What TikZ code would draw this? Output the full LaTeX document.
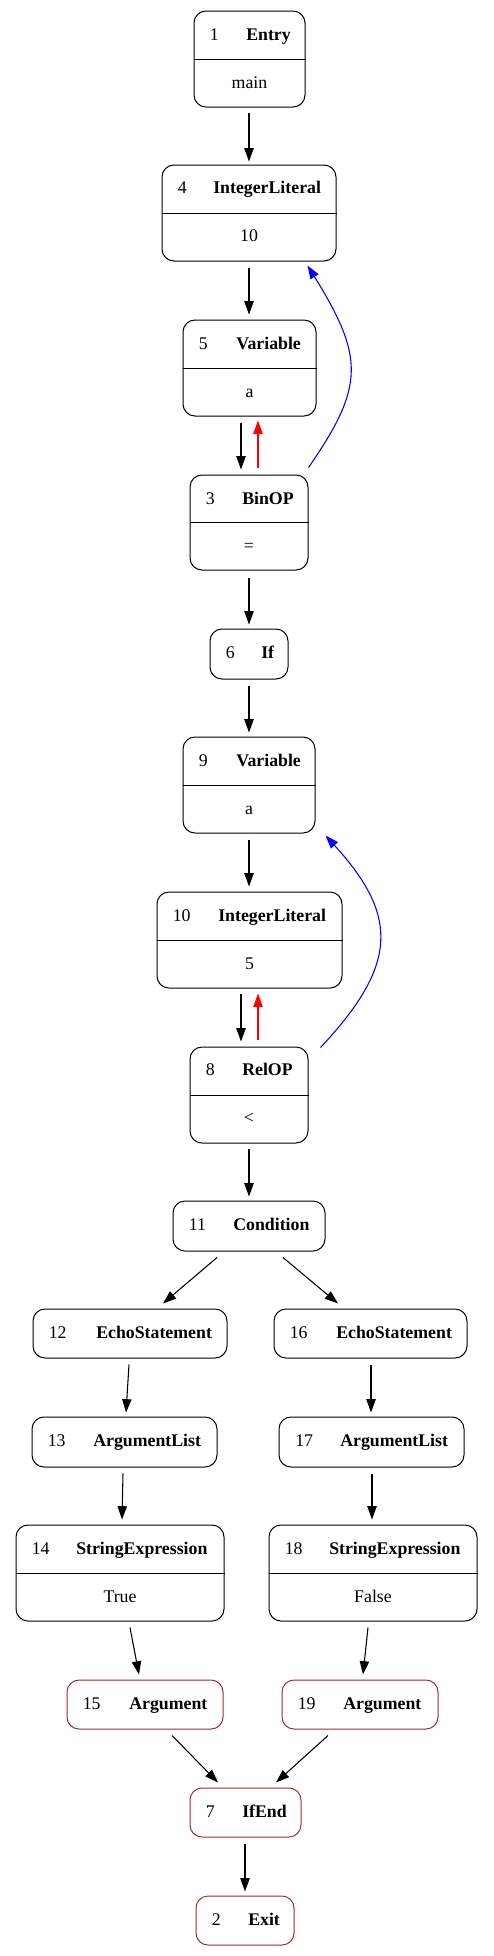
\documentclass[tikz,border=0pt]{standalone}
\usepackage{fontspec}
\setmainfont{Liberation Serif}
\usetikzlibrary{arrows.meta,calc}
\definecolor{argred}{RGB}{165,42,42}
\newcommand\gbox[6]{\node[box, draw=#6, minimum width={(#4-#2)*0.75pt}, minimum height={(#5-#3)*0.75pt}] (#1) at ({(#2+#4)/2},{(#3+#5)/2}) {};}
\begin{document}
\begin{tikzpicture}[x=0.75pt,y=-0.75pt,
  box/.style={line width=0.75pt, rounded corners=9pt, inner sep=0pt, rectangle},
  divl/.style={line width=0.75pt},
  numtxt/.style={anchor=base west, inner sep=0pt, font=\fontsize{13.35}{16}\selectfont},
  nametxt/.style={anchor=base west, inner sep=0pt, font=\fontsize{13.35}{16}\selectfont\bfseries},
  valtxt/.style={anchor=base, inner sep=0pt, font=\fontsize{13.35}{16}\selectfont},
  edge/.style={draw, line width=0.8pt, -{Triangle[length=10pt,width=7pt]}},
]
\useasboundingbox (0,0) rectangle (493,1956);

% nodes
\gbox{n1}{194}{11}{305}{107}{black}
\draw[divl] (n1.west) -- (n1.east);
\node[numtxt] (n1a) at (209.5,40) {1};
\node[nametxt] (n1b) at (246,40) {Entry};
\node[valtxt] (n1c) at (249.5,88) {main};

\gbox{n4}{162}{165}{336}{261}{black}
\draw[divl] (n4.west) -- (n4.east);
\node[numtxt] (n4a) at (177.5,193.5) {4};
\node[nametxt] (n4b) at (213,193.5) {IntegerLiteral};
\node[valtxt] (n4c) at (249,241.5) {10};

\gbox{n5}{183}{320}{316}{416}{black}
\draw[divl] (n5.west) -- (n5.east);
\node[numtxt] (n5a) at (198.5,349) {5};
\node[nametxt] (n5b) at (236,349) {Variable};
\node[valtxt] (n5c) at (249.5,397) {a};

\gbox{n3}{190}{475}{308}{570}{black}
\draw[divl] (n3.west) -- (n3.east);
\node[numtxt] (n3a) at (205.5,504) {3};
\node[nametxt] (n3b) at (242,504) {BinOP};
\node[valtxt] (n3c) at (249,551.5) {=};

\gbox{n6}{210}{629}{288}{679}{black}
\node[numtxt] (n6a) at (225.5,658.5) {6};
\node[nametxt] (n6b) at (261,658.5) {If};

\gbox{n9}{183}{737}{315}{833}{black}
\draw[divl] (n9.west) -- (n9.east);
\node[numtxt] (n9a) at (198.5,766) {9};
\node[nametxt] (n9b) at (236,766) {Variable};
\node[valtxt] (n9c) at (249,814) {a};

\gbox{n10}{157}{892}{342}{988}{black}
\draw[divl] (n10.west) -- (n10.east);
\node[numtxt] (n10a) at (172.5,921) {10};
\node[nametxt] (n10b) at (218,921) {IntegerLiteral};
\node[valtxt] (n10c) at (249.5,969) {5};

\gbox{n8}{190}{1047}{308}{1143}{black}
\draw[divl] (n8.west) -- (n8.east);
\node[numtxt] (n8a) at (205.5,1075.5) {8};
\node[nametxt] (n8b) at (242,1075.5) {RelOP};
\node[valtxt] (n8c) at (249,1123.5) {<};

\gbox{n11}{173}{1201}{325}{1251}{black}
\node[numtxt] (n11a) at (188.5,1230.5) {11};
\node[nametxt] (n11b) at (233,1230.5) {Condition};

\gbox{n12}{33}{1309}{227}{1358}{black}
\node[numtxt] (n12a) at (48.5,1338) {12};
\node[nametxt] (n12b) at (96,1338) {EchoStatement};

\gbox{n16}{274}{1309}{467}{1358}{black}
\node[numtxt] (n16a) at (289.5,1338) {16};
\node[nametxt] (n16b) at (336,1338) {EchoStatement};

\gbox{n13}{32}{1417}{217}{1467}{black}
\node[numtxt] (n13a) at (47.5,1446.5) {13};
\node[nametxt] (n13b) at (93,1446.5) {ArgumentList};

\gbox{n17}{279}{1417}{464}{1467}{black}
\node[numtxt] (n17a) at (295,1446.5) {17};
\node[nametxt] (n17b) at (340,1446.5) {ArgumentList};

\gbox{n14}{16}{1525}{224}{1621}{black}
\draw[divl] (n14.west) -- (n14.east);
\node[numtxt] (n14a) at (31.5,1554) {14};
\node[nametxt] (n14b) at (76,1554) {StringExpression};
\node[valtxt] (n14c) at (120,1602) {True};

\gbox{n18}{269}{1525}{477}{1621}{black}
\draw[divl] (n18.west) -- (n18.east);
\node[numtxt] (n18a) at (284.5,1554) {18};
\node[nametxt] (n18b) at (329,1554) {StringExpression};
\node[valtxt] (n18c) at (373,1602) {False};

\gbox{n15}{67}{1680}{223}{1729}{argred}
\node[numtxt] (n15a) at (82.5,1709) {15};
\node[nametxt] (n15b) at (129,1709) {Argument};

\gbox{n19}{282}{1680}{438}{1729}{argred}
\node[numtxt] (n19a) at (297.5,1709) {19};
\node[nametxt] (n19b) at (343,1709) {Argument};

\gbox{n7}{190}{1788}{301}{1837}{argred}
\node[numtxt] (n7a) at (205.5,1817) {7};
\node[nametxt] (n7b) at (242,1817) {IfEnd};

\gbox{n2}{196}{1896}{294}{1945}{argred}
\node[numtxt] (n2a) at (211.5,1925) {2};
\node[nametxt] (n2b) at (248,1925) {Exit};

% edges
\draw[edge] ($(n1.south)+(-0.5,5)$) -- ($(n4.north)+(0,-3)$);
\draw[edge] ($(n4.south)+(0,6)$) -- ($(n5.north)+(-0.5,-5)$);
\draw[edge] ($(n5.south)+(-8.5,6)$) -- ($(n3.north)+(-8,-5)$);
\draw[edge,red] ($(n3.north)+(9,-7)$) -- ($(n5.south)+(8.5,4)$);
\draw[edge,blue] ($(n3.north east)+(0,-7)$) .. controls +(56,-81) and +(57,92) .. ($(n4.south east)+(-29,4)$);
\draw[edge] ($(n3.south)+(0,7)$) -- ($(n6.north)+(0,-4)$);
\draw[edge] ($(n6.south)+(0,6)$) -- ($(n9.north)+(0,-4)$);
\draw[edge] ($(n9.south)+(0,6)$) -- ($(n10.north)+(-0.5,-5)$);
\draw[edge] ($(n10.south)+(-8.5,5)$) -- ($(n8.north)+(-8,-5)$);
\draw[edge,red] ($(n8.north)+(9,-7)$) -- ($(n10.south)+(8.5,5)$);
\draw[edge,blue] ($(n8.north east)+(12,1)$) .. controls +(78,-83) and +(73,80) .. ($(n9.south east)+(10,2)$);
\draw[edge] ($(n8.south)+(0,5)$) -- ($(n11.north)+(0,-4)$);
\draw[edge] ($(n11.south)+(-32,6)$) -- ($(n12.north)+(33,-5)$);
\draw[edge] ($(n11.south)+(34,6)$) -- ($(n16.north)+(-32.5,-5)$);
\draw[edge] ($(n12.south)+(-1,6)$) -- ($(n13.north)+(1.5,-4)$);
\draw[edge] ($(n16.south)+(0.5,6)$) -- ($(n17.north)+(-0.5,-4)$);
\draw[edge] ($(n13.south)+(-1.5,6)$) -- ($(n14.north)+(2,-5)$);
\draw[edge] ($(n17.south)+(0.5,6)$) -- ($(n18.north)+(-1,-5)$);
\draw[edge] ($(n14.south)+(10,6)$) -- ($(n15.north)+(-6,-5)$);
\draw[edge] ($(n18.south)+(-5,6)$) -- ($(n19.north)+(3,-5)$);
\draw[edge] ($(n15.south)+(27,6)$) -- ($(n7.north)+(-27.5,-5)$);
\draw[edge] ($(n19.south)+(-32,6)$) -- ($(n7.north)+(30.5,-5)$);
\draw[edge] ($(n7.south)+(-0.5,6)$) -- ($(n2.north)+(0,-4)$);
\end{tikzpicture}
\end{document}
